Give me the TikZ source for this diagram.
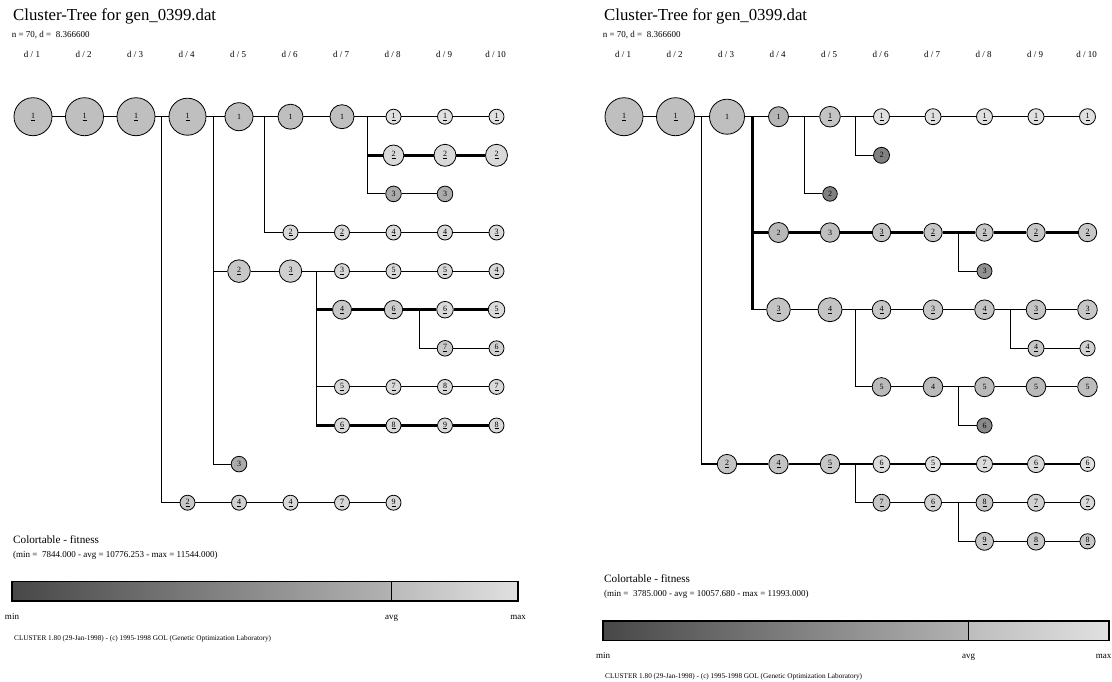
\documentclass[tikz,border=0pt]{standalone}
\usepackage{fontspec}
\setmainfont{Liberation Serif}
\newcommand\UL[1]{\underline{#1}}
\newcommand\nd[6]{\node[cnode, minimum size=2*#4pt, fill=black!#6] (#1) at ({33+51.5*(#2-1)},{116.7+38.6*#3}) {#5};}
\newcommand\bp[3]{\coordinate (#1) at ({33+51.5*(#2-0.5)},{116.7+38.6*#3});}
\tikzset{
  cnode/.style={circle, draw=black, line width=0.8pt, inner sep=0pt, font=\fontsize{8}{8}\selectfont},
  thn/.style={line width=1pt},
  thk/.style={line width=2.6pt},
  lbl/.style={inner sep=0pt, anchor=base west},
  hdr/.style={inner sep=0pt, anchor=base, font=\fontsize{9}{9}\selectfont},
  ttl/.style={lbl, font=\fontsize{16.8}{18}\selectfont},
  sml/.style={lbl, font=\fontsize{9}{9}\selectfont},
  cttl/.style={lbl, font=\fontsize{11.2}{12}\selectfont},
  foot/.style={lbl, font=\fontsize{7.25}{8}\selectfont},
}
\begin{document}
\begin{tikzpicture}[x=1pt,y=-1pt]
\useasboundingbox (0,0) rectangle (1112,681);
%%%%%%%%%%%%%%%% LEFT PANEL
\node[ttl] (Ltitle) at (13,20.7) {Cluster-Tree for gen\_0399.dat};
\node[sml] (Linfo) at (11.7,37.3) {n = 70, d = \ 8.366600};
\foreach \i in {1,...,10}{\node[hdr] (Lh\i) at ({32+51.5*(\i-1)},57.3) {d / \i};}
% row 0
\nd{L0c1}{1}{0}{19}{\UL{1}}{25}
\nd{L0c2}{2}{0}{19}{\UL{1}}{25}
\nd{L0c3}{3}{0}{19}{\UL{1}}{25}
\nd{L0c4}{4}{0}{18.5}{\UL{1}}{25}
\nd{L0c5}{5}{0}{14}{1}{25}
\nd{L0c6}{6}{0}{12.5}{1}{25}
\nd{L0c7}{7}{0}{12}{1}{25}
\nd{L0c8}{8}{0}{7.5}{\UL{1}}{12}
\nd{L0c9}{9}{0}{7.5}{\UL{1}}{12}
\nd{L0c10}{10}{0}{7.5}{\UL{1}}{12}
% row 1
\nd{L1c8}{8}{1}{10.3}{\UL{2}}{15}
\nd{L1c9}{9}{1}{11}{\UL{2}}{15}
\nd{L1c10}{10}{1}{11}{\UL{2}}{15}
% row 2
\nd{L2c8}{8}{2}{7.8}{3}{33}
\nd{L2c9}{9}{2}{7.8}{3}{33}
% row 3
\nd{L3c6}{6}{3}{7.5}{\UL{2}}{15}
\nd{L3c7}{7}{3}{7.5}{\UL{2}}{15}
\nd{L3c8}{8}{3}{7.5}{\UL{4}}{15}
\nd{L3c9}{9}{3}{7.5}{\UL{4}}{15}
\nd{L3c10}{10}{3}{7.5}{\UL{3}}{15}
% row 4
\nd{L4c5}{5}{4}{11.3}{\UL{2}}{22}
\nd{L4c6}{6}{4}{11.2}{\UL{3}}{19}
\nd{L4c7}{7}{4}{7.5}{\UL{3}}{15}
\nd{L4c8}{8}{4}{7.5}{\UL{5}}{15}
\nd{L4c9}{9}{4}{7.5}{\UL{5}}{15}
\nd{L4c10}{10}{4}{7.5}{\UL{4}}{15}
% row 5
\nd{L5c7}{7}{5}{9.5}{\UL{4}}{22}
\nd{L5c8}{8}{5}{9.2}{\UL{6}}{20}
\nd{L5c9}{9}{5}{8.3}{\UL{6}}{15}
\nd{L5c10}{10}{5}{8.3}{\UL{5}}{14}
% row 6
\nd{L6c9}{9}{6}{7.8}{\UL{7}}{21}
\nd{L6c10}{10}{6}{7.5}{\UL{6}}{18}
% row 7
\nd{L7c7}{7}{7}{7.5}{\UL{5}}{15}
\nd{L7c8}{8}{7}{7.5}{\UL{7}}{15}
\nd{L7c9}{9}{7}{7.5}{\UL{8}}{15}
\nd{L7c10}{10}{7}{7.5}{\UL{7}}{15}
% row 8
\nd{L8c7}{7}{8}{7.5}{\UL{6}}{15}
\nd{L8c8}{8}{8}{7.5}{\UL{8}}{15}
\nd{L8c9}{9}{8}{7.5}{\UL{9}}{15}
\nd{L8c10}{10}{8}{7.5}{\UL{8}}{15}
% row 9
\nd{L9c5}{5}{9}{7.8}{3}{33}
% row 10
\nd{L10c4}{4}{10}{7.5}{\UL{2}}{22}
\nd{L10c5}{5}{10}{7.5}{\UL{4}}{18}
\nd{L10c6}{6}{10}{7.5}{\UL{4}}{15}
\nd{L10c7}{7}{10}{7.5}{\UL{7}}{15}
\nd{L10c8}{8}{10}{7.5}{\UL{9}}{15}
% branch points
\bp{Lb34}{3}{0}
\bp{Lb45}{4}{0}
\bp{Lb56}{5}{0}
\bp{Lb78}{7}{0}
\bp{Lb67}{6}{4}
\bp{Lb89}{8}{5}
% connectors
\draw[thn] (L0c1) -- (L0c2) -- (L0c3) -- (Lb34) -- (L0c4) -- (Lb45) -- (L0c5) -- (Lb56) -- (L0c6) -- (L0c7) -- (Lb78) -- (L0c8) -- (L0c9) -- (L0c10);
\draw[thn] (Lb34) |- (L10c4);
\draw[thn] (Lb45) |- (L4c5);
\draw[thn] (Lb45) |- (L9c5);
\draw[thn] (Lb56) |- (L3c6);
\draw[thn] (Lb78) |- (L2c8);
\draw[thk] (L1c8 -| Lb78) -- (L1c8) -- (L1c9) -- (L1c10);
\draw[thn] (L2c8) -- (L2c9);
\draw[thn] (L3c6) -- (L3c7) -- (L3c8) -- (L3c9) -- (L3c10);
\draw[thn] (L4c5) -- (L4c6) -- (Lb67) -- (L4c7) -- (L4c8) -- (L4c9) -- (L4c10);
\draw[thn] (Lb67) |- (L8c7);
\draw[thn] (Lb67) |- (L7c7);
\draw[thk] (L5c7 -| Lb67) -- (L5c7) -- (L5c8) -- (Lb89) -- (L5c9) -- (L5c10);
\draw[thn] (Lb89) |- (L6c9);
\draw[thn] (L6c9) -- (L6c10);
\draw[thn] (L7c7) -- (L7c8) -- (L7c9) -- (L7c10);
\draw[thk] (L8c7 -| Lb67) -- (L8c7) -- (L8c8) -- (L8c9) -- (L8c10);
\draw[thn] (L10c4) -- (L10c5) -- (L10c6) -- (L10c7) -- (L10c8);
% color table
\node[cttl] (Lct) at (13,543) {Colortable - fitness};
\node[sml] (Lmm) at (13,557) {(min = \ 7844.000 - avg = 10776.253 - max = 11544.000)};
\shade[left color=black!72, right color=black!30] (12,581.5) rectangle (391.5,601);
\shade[left color=black!27, right color=black!12] (391.5,581.5) rectangle (518,601);
\draw[line width=1.4pt] (12,581.5) rectangle (518,601);
\draw[line width=0.9pt] (391.5,581.5) -- (391.5,601);
\node[hdr] (Lmin) at (12,619) {min};
\node[hdr] (Lavg) at (391.5,619) {avg};
\node[hdr] (Lmax) at (518,619) {max};
\node[foot] (Lfoot) at (14,640) {CLUSTER 1.80 (29-Jan-1998) - (c) 1995-1998 GOL (Genetic Optimization Laboratory)};
%%%%%%%%%%%%%%%% RIGHT PANEL
\begin{scope}[xshift=591pt]
\node[ttl] (Rtitle) at (13,20.7) {Cluster-Tree for gen\_0399.dat};
\node[sml] (Rinfo) at (11.7,37.3) {n = 70, d = \ 8.366600};
\foreach \i in {1,...,10}{\node[hdr] (Rh\i) at ({32+51.5*(\i-1)},57.3) {d / \i};}
% row 0
\nd{R0c1}{1}{0}{19}{\UL{1}}{25}
\nd{R0c2}{2}{0}{19}{\UL{1}}{25}
\nd{R0c3}{3}{0}{17.5}{1}{25}
\nd{R0c4}{4}{0}{10}{1}{29}
\nd{R0c5}{5}{0}{10.3}{\UL{1}}{23}
\nd{R0c6}{6}{0}{8}{\UL{1}}{12}
\nd{R0c7}{7}{0}{8}{\UL{1}}{12}
\nd{R0c8}{8}{0}{8}{\UL{1}}{12}
\nd{R0c9}{9}{0}{8}{\UL{1}}{12}
\nd{R0c10}{10}{0}{8}{\UL{1}}{12}
% row 1,2
\nd{R1c6}{6}{1}{8}{2}{50}
\nd{R2c5}{5}{2}{7.3}{2}{50}
% row 3
\nd{R3c4}{4}{3}{10}{2}{28}
\nd{R3c5}{5}{3}{9.7}{3}{25}
\nd{R3c6}{6}{3}{9.2}{\UL{3}}{23}
\nd{R3c7}{7}{3}{9.2}{\UL{2}}{22}
\nd{R3c8}{8}{3}{8.7}{\UL{2}}{22}
\nd{R3c9}{9}{3}{9.2}{\UL{2}}{22}
\nd{R3c10}{10}{3}{9.2}{\UL{2}}{22}
% row 4
\nd{R4c8}{8}{4}{7.5}{3}{43}
% row 5
\nd{R5c4}{4}{5}{11.8}{\UL{3}}{23}
\nd{R5c5}{5}{5}{12}{\UL{4}}{23}
\nd{R5c6}{6}{5}{9.3}{\UL{4}}{22}
\nd{R5c7}{7}{5}{9.8}{\UL{3}}{22}
\nd{R5c8}{8}{5}{9.8}{\UL{4}}{23}
\nd{R5c9}{9}{5}{9.8}{\UL{3}}{23}
\nd{R5c10}{10}{5}{9.8}{\UL{3}}{22}
% row 6
\nd{R6c9}{9}{6}{8}{\UL{4}}{22}
\nd{R6c10}{10}{6}{7.6}{\UL{4}}{18}
% row 7
\nd{R7c6}{6}{7}{9.3}{5}{27}
\nd{R7c7}{7}{7}{9.8}{4}{27}
\nd{R7c8}{8}{7}{9.8}{5}{27}
\nd{R7c9}{9}{7}{9.8}{5}{27}
\nd{R7c10}{10}{7}{9.8}{5}{26}
% row 8
\nd{R8c8}{8}{8}{7.6}{6}{46}
% row 9
\nd{R9c3}{3}{9}{9.7}{\UL{2}}{23}
\nd{R9c4}{4}{9}{9.7}{\UL{4}}{23}
\nd{R9c5}{5}{9}{9.7}{\UL{5}}{22}
\nd{R9c6}{6}{9}{8.5}{\UL{6}}{14}
\nd{R9c7}{7}{9}{7.6}{\UL{5}}{12}
\nd{R9c8}{8}{9}{8}{\UL{7}}{14}
\nd{R9c9}{9}{9}{8.5}{\UL{6}}{15}
\nd{R9c10}{10}{9}{7.3}{\UL{6}}{12}
% row 10
\nd{R10c6}{6}{10}{8.5}{\UL{7}}{22}
\nd{R10c7}{7}{10}{8.5}{\UL{6}}{18}
\nd{R10c8}{8}{10}{8.5}{\UL{8}}{22}
\nd{R10c9}{9}{10}{8.5}{\UL{7}}{18}
\nd{R10c10}{10}{10}{7.3}{\UL{7}}{15}
% row 11
\nd{R11c8}{8}{11}{9}{\UL{9}}{22}
\nd{R11c9}{9}{11}{8.8}{\UL{8}}{22}
\nd{R11c10}{10}{11}{7.6}{\UL{8}}{22}
% branch points
\bp{Rb23}{2}{0}
\bp{Rb34}{3}{0}
\bp{Rb45}{4}{0}
\bp{Rb56}{5}{0}
\bp{Rb78c}{7}{3}
\bp{Rb56e}{5}{5}
\bp{Rb89e}{8}{5}
\bp{Rb78g}{7}{7}
\bp{Rb56i}{5}{9}
\bp{Rb78j}{7}{10}
% connectors
\draw[thn] (R0c1) -- (R0c2) -- (Rb23) -- (R0c3) -- (Rb34) -- (R0c4) -- (Rb45) -- (R0c5) -- (Rb56) -- (R0c6) -- (R0c7) -- (R0c8) -- (R0c9) -- (R0c10);
\draw[thn] (Rb23) -- (R9c3 -| Rb23);
\draw[thk] (R9c3 -| Rb23) -- (R9c3) -- (R9c4) -- (R9c5) -- (Rb56i) -- (R9c6) -- (R9c7) -- (R9c8) -- (R9c9) -- (R9c10);
\draw[thk] (Rb34) -- (R5c4 -| Rb34);
\draw[thk] (R3c4 -| Rb34) -- (R3c4) -- (R3c5) -- (R3c6) -- (R3c7) -- (Rb78c) -- (R3c8) -- (R3c9) -- (R3c10);
\draw[thn] (R5c4 -| Rb34) -- (R5c4);
\draw[thn] (Rb45) |- (R2c5);
\draw[thn] (Rb56) |- (R1c6);
\draw[thn] (Rb78c) |- (R4c8);
\draw[thn] (R5c4) -- (R5c5) -- (Rb56e) -- (R5c6) -- (R5c7) -- (R5c8) -- (Rb89e) -- (R5c9) -- (R5c10);
\draw[thn] (Rb56e) |- (R7c6);
\draw[thn] (Rb89e) |- (R6c9);
\draw[thn] (R6c9) -- (R6c10);
\draw[thn] (R7c6) -- (R7c7) -- (Rb78g) -- (R7c8) -- (R7c9) -- (R7c10);
\draw[thn] (Rb78g) |- (R8c8);
\draw[thn] (Rb56i) |- (R10c6);
\draw[thn] (R10c6) -- (R10c7) -- (Rb78j) -- (R10c8) -- (R10c9) -- (R10c10);
\draw[thn] (Rb78j) |- (R11c8);
\draw[thn] (R11c8) -- (R11c9) -- (R11c10);
% color table
\node[cttl] (Rct) at (13,582.5) {Colortable - fitness};
\node[sml] (Rmm) at (13,596.5) {(min = \ 3785.000 - avg = 10057.680 - max = 11993.000)};
\shade[left color=black!72, right color=black!30] (12,621) rectangle (377.5,640.5);
\shade[left color=black!26, right color=black!12] (377.5,621) rectangle (518,640.5);
\draw[line width=1.4pt] (12,621) rectangle (518,640.5);
\draw[line width=0.9pt] (377.5,621) -- (377.5,640.5);
\node[hdr] (Rmin) at (12,658.5) {min};
\node[hdr] (Ravg) at (377.5,658.5) {avg};
\node[hdr, anchor=base east] (Rmax) at (520.5,658.5) {max};
\node[foot] (Rfoot) at (14,678.5) {CLUSTER 1.80 (29-Jan-1998) - (c) 1995-1998 GOL (Genetic Optimization Laboratory)};
\end{scope}
\end{tikzpicture}
\end{document}
